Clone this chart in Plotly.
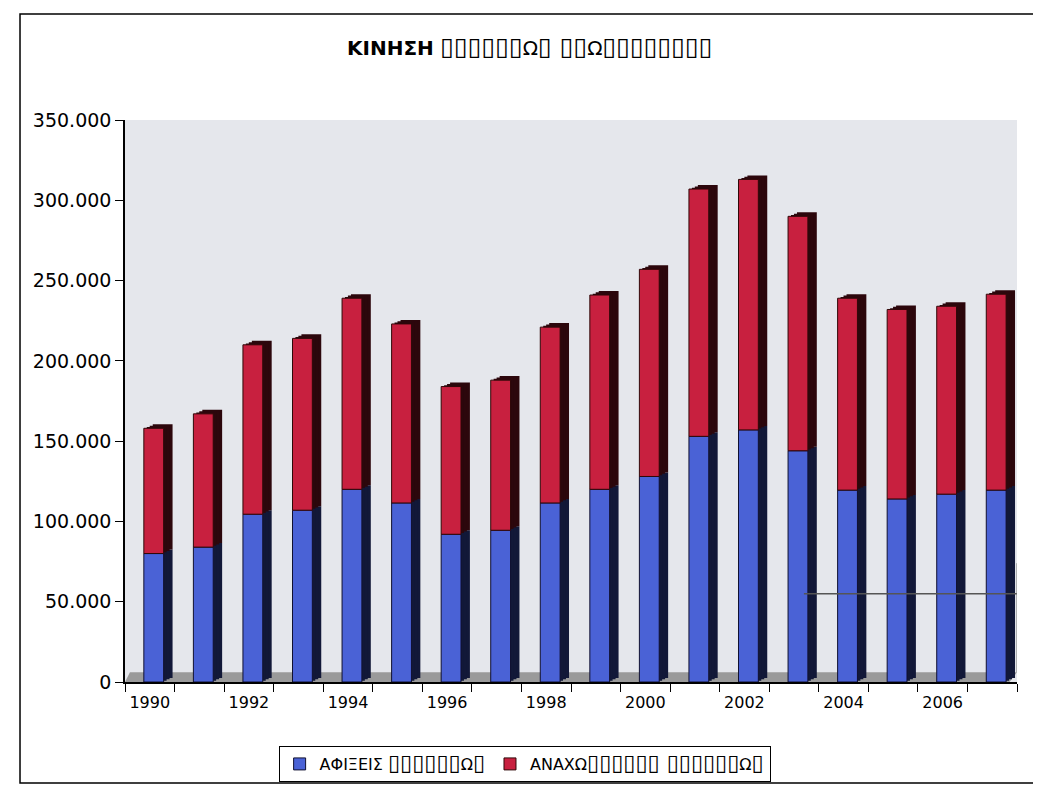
import plotly.graph_objects as go

# ---- data ----
years = [str(y) for y in range(1990, 2008)]
tick_labels = [y if int(y) % 2 == 0 else "" for y in years]
arrivals = [80000, 84000, 104500, 107000, 120000, 111500, 92000, 94500, 111500,
            120000, 128000, 153000, 157000, 144000, 119500, 114000, 117000, 119500]
departures = [78000, 83000, 105500, 107000, 119000, 111500, 92000, 93500, 109500,
              121000, 129000, 154000, 156000, 146000, 119500, 118000, 117000, 122000]
y_ticks = list(range(0, 350001, 50000))


def box(s, size):
    """Render the missing-glyph boxes of the reference a little larger."""
    return "<span style='font-size:%dpx'>%s</span>" % (size, s)


name_arr = "ΑΦΙΞΕΙΣ " + box("▯▯▯▯▯▯", 22) + "Ω" + box("▯", 22)
name_dep = "ΑΝΑΧΩ" + box("▯▯▯▯▯▯ ▯▯▯▯▯▯", 22) + "Ω" + box("▯", 22)
title_txt = ("<b>ΚΙΝΗΣΗ</b> " + box("▯▯▯▯▯▯", 25) + "Ω" + box("▯ ▯▯", 25) + "Ω"
             + box("▯▯▯▯▯▯▯▯", 25))

BLUE = "#4a62d6"
RED = "#c8203f"
BLUE_DARK = "#121838"
RED_DARK = "#2c070c"
FRONT_OFF = -0.12
BAR_W = 0.40
DX = 0.18
DY = 2500

fig = go.Figure()
for f in (1.0, 0.66, 0.33):
    fig.add_trace(go.Bar(x=years, y=arrivals, base=[DY * f] * len(years),
                         offset=FRONT_OFF + DX * f, width=BAR_W,
                         marker=dict(color=BLUE_DARK, line=dict(width=0)),
                         showlegend=False, hoverinfo="skip"))
    fig.add_trace(go.Bar(x=years, y=departures, base=[a + DY * f for a in arrivals],
                         offset=FRONT_OFF + DX * f, width=BAR_W,
                         marker=dict(color=RED_DARK, line=dict(width=0)),
                         showlegend=False, hoverinfo="skip"))
fig.add_trace(go.Bar(x=years, y=arrivals, base=[0] * len(years), name=name_arr,
                     offset=FRONT_OFF, width=BAR_W,
                     marker=dict(color=BLUE, line=dict(color="#101030", width=1))))
fig.add_trace(go.Bar(x=years, y=departures, base=arrivals, name=name_dep,
                     offset=FRONT_OFF, width=BAR_W,
                     marker=dict(color=RED, line=dict(color="#300808", width=1))))

fig.update_layout(
    width=1033, height=777,
    margin=dict(l=117, r=24, t=112, b=103),
    paper_bgcolor="white", plot_bgcolor="#e5e7ec",
    barmode="overlay", separators=",.",
    font=dict(family="DejaVu Sans", color="black"),
    legend=dict(orientation="h", x=0.448, xanchor="center",
                yref="container", y=0.027, yanchor="middle",
                bordercolor="black", borderwidth=1,
                bgcolor="white", font=dict(size=16, color="black"),
                traceorder="normal"),
)
fig.update_xaxes(type="category", categoryorder="array", categoryarray=years,
                 range=[-0.5, len(years) - 0.5], tickson="boundaries",
                 tickvals=years, ticktext=tick_labels, tickangle=0,
                 ticks="outside", ticklen=8, tickcolor="black", tickwidth=1,
                 ticklabelstandoff=5,
                 showline=True, linecolor="black", linewidth=1.5, showgrid=False,
                 tickfont=dict(size=16, color="black"))
fig.update_yaxes(range=[0, 350000], tickvals=y_ticks, tickformat=",d",
                 ticks="outside", ticklen=8, tickcolor="black",
                 showline=True, linecolor="black", linewidth=1.5,
                 showgrid=False, zeroline=False,
                 tickfont=dict(size=19, color="black"))

fig.add_shape(type="path", xref="x", yref="y", layer="below",
              path="M -0.5,0 L 17.35,0 L 17.5,6000 L -0.4,6000 Z",
              fillcolor="#9a9a9a", line=dict(width=0))
fig.add_shape(type="line", xref="x", yref="y", x0=13.2, x1=17.5, y0=55000, y1=55000,
              line=dict(color="#555555", width=1.5))
fig.add_shape(type="line", xref="x", yref="y", x0=17.5, x1=17.5, y0=6000, y1=74000,
              line=dict(color="#777777", width=1))
fig.add_shape(type="rect", xref="paper", yref="paper",
              x0=-0.1177, x1=1.0235, y0=-0.1797, y1=1.1886,
              line=dict(color="black", width=1.5))
fig.add_annotation(text=title_txt, xref="paper", yref="paper",
                   x=0.454, y=1.13, xanchor="center", yanchor="middle",
                   showarrow=False, font=dict(size=20, color="black"))

fig.write_html("out.html")
